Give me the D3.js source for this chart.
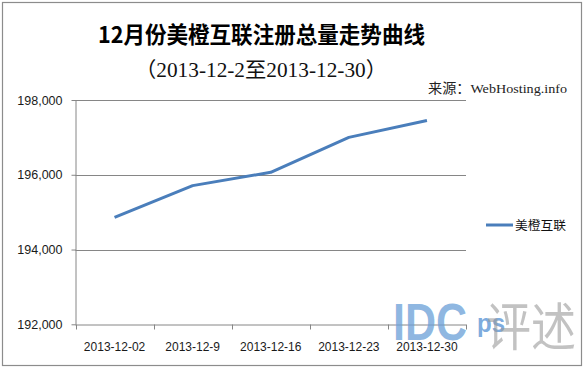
<!DOCTYPE html>
<html><head><meta charset="utf-8">
<script src="https://cdn.jsdelivr.net/npm/d3@7"></script>
<style>body{margin:0;background:#fff}svg{display:block}</style>
</head><body>
<script>
const categories = ["2013-12-02","2013-12-9","2013-12-16","2013-12-23","2013-12-30"];
const seriesName = "美橙互联";
const values = [194860, 195710, 196065, 197000, 197450];
const yTicks = [192000, 194000, 196000, 198000];
const titleText = "12月份美橙互联注册总量走势曲线";
const subtitleText = "（2013-12-2至2013-12-30）";
const sourceText = "来源：WebHosting.info";

const W = 583, H = 368;
const svg = d3.select("body").append("svg").attr("width", W).attr("height", H);

// outer frame
svg.append("rect").attr("x", 2.5).attr("y", 2.5).attr("width", 579).attr("height", 363)
  .attr("fill", "#fff").attr("stroke", "#8c8c8c").attr("stroke-width", 1.2);

const L = 75.5, R = 466, T = 100, B = 324.3;
const x = d3.scaleBand().domain(categories).range([L, R]);
const y = d3.scaleLinear().domain([192000, 198000]).range([B, T]);

// grid
svg.append("g").selectAll("line").data(yTicks.slice(1)).join("line")
  .attr("x1", L).attr("x2", R).attr("y1", d => Math.round(y(d)) + 0.5).attr("y2", d => Math.round(y(d)) + 0.5)
  .attr("stroke", "#868686").attr("stroke-width", 1);

// y axis
const yAxis = d3.axisLeft(y).tickValues(yTicks).tickSize(4).tickFormat(d3.format(","));
const gy = svg.append("g").attr("transform", `translate(${L},0)`).call(yAxis);
gy.select(".domain").attr("stroke", "#868686").attr("d", `M0.5,${T}V${B}`);
gy.selectAll(".tick line").attr("stroke", "#868686").attr("x1", 0.5);
gy.selectAll(".tick text").attr("x", -13).attr("font-family", "Arial, 'Liberation Sans', sans-serif")
  .attr("font-size", 12.5).attr("fill", "#1a1a1a");

// x axis
const xAxis = d3.axisBottom(x).tickSize(0).tickSizeOuter(0);
const gx = svg.append("g").attr("transform", `translate(0,${Math.round(B) + 0.5})`).call(xAxis);
gx.select(".domain").attr("stroke", "#868686").attr("d", `M${L},0.5H${R}`);
gx.selectAll(".tick text").attr("dy", 0).attr("y", 26).attr("font-family", "Arial, 'Liberation Sans', sans-serif")
  .attr("font-size", 12).attr("fill", "#1a1a1a");
// category boundary ticks
const bounds = categories.map(c => x(c)).concat([R]);
gx.append("g").selectAll("line").data(bounds).join("line")
  .attr("x1", d => Math.round(d) + 0.5).attr("x2", d => Math.round(d) + 0.5).attr("y1", 0).attr("y2", 5)
  .attr("stroke", "#868686");

// line
const line = d3.line().x((d, i) => x(categories[i]) + x.bandwidth() / 2).y(d => y(d));
svg.append("path").datum(values).attr("d", line).attr("fill", "none")
  .attr("stroke", "#4a7ebb").attr("stroke-width", 3).attr("stroke-linejoin", "round").attr("stroke-linecap", "butt");

// title
svg.append("text").attr("x", 261.5).attr("y", 43).attr("text-anchor", "middle")
  .attr("font-family", "'Noto Sans CJK SC', sans-serif").attr("font-weight", "bold").attr("font-size", 22.5)
  .attr("textLength", 327).attr("lengthAdjust", "spacingAndGlyphs").attr("fill", "#000").text(titleText);
svg.append("text").attr("x", 261).attr("y", 77).attr("text-anchor", "middle")
  .attr("font-family", "'Liberation Serif', 'Noto Sans CJK SC', serif").attr("font-size", 21)
  .attr("textLength", 252).attr("lengthAdjust", "spacingAndGlyphs").attr("fill", "#111").text(subtitleText);
svg.append("text").attr("x", 428).attr("y", 93)
  .attr("font-family", "'Liberation Serif', 'Noto Sans CJK SC', serif").attr("font-size", 13.5)
  .attr("textLength", 139).attr("lengthAdjust", "spacingAndGlyphs").attr("fill", "#222").text(sourceText);

// legend
svg.append("line").attr("x1", 486).attr("x2", 513).attr("y1", 225).attr("y2", 225)
  .attr("stroke", "#4a7ebb").attr("stroke-width", 3);
svg.append("text").attr("x", 515).attr("y", 230)
  .attr("font-family", "'Noto Sans CJK SC', sans-serif").attr("font-size", 12.5)
  .attr("textLength", 51).attr("lengthAdjust", "spacingAndGlyphs").attr("fill", "#111").text(seriesName);

// watermark
const wm = svg.append("g").attr("pointer-events", "none");
wm.append("text").attr("x", 393).attr("y", 340).attr("font-family", "Arial, 'Liberation Sans', sans-serif")
  .attr("font-weight", "bold").attr("font-size", 51).attr("textLength", 74).attr("lengthAdjust", "spacingAndGlyphs")
  .attr("fill", "#6a9fd8").attr("fill-opacity", 0.75).text("IDC");
wm.append("text").attr("x", 477).attr("y", 332).attr("font-family", "Arial, 'Liberation Sans', sans-serif")
  .attr("font-weight", "bold").attr("font-size", 26).attr("textLength", 28).attr("lengthAdjust", "spacingAndGlyphs")
  .attr("fill", "#5b95d6").attr("fill-opacity", 0.8).text("ps");
wm.append("text").attr("x", 486).attr("y", 346).attr("font-family", "'Noto Sans CJK SC', serif")
  .attr("font-size", 52).attr("textLength", 90).attr("lengthAdjust", "spacingAndGlyphs")
  .attr("fill", "#999").attr("fill-opacity", 0.6).text("评述");
</script>
</body></html>
